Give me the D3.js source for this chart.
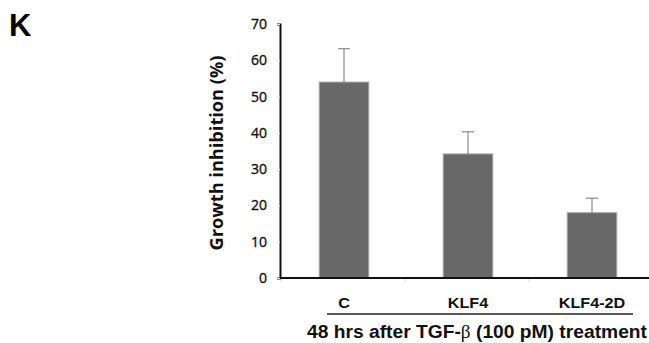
<!DOCTYPE html>
<meta charset="utf-8">
<script src="https://cdn.jsdelivr.net/npm/d3@7"></script>
<style>
  body { margin: 0; background: #fff; }
</style>
<div id="chart"></div>
<script>

// data
var groups = ["C", "KLF4", "KLF4-2D"];
var means = [54, 34.2, 18];
var errors = [9.2, 6.1, 4];
var yTicks = [0, 10, 20, 30, 40, 50, 60, 70];

var W = 649, H = 343;
var svg = d3.select("#chart").append("svg")
  .attr("width", W).attr("height", H);

var x = d3.scaleBand()
  .domain(groups)
  .range([282, 654])
  .paddingInner(0.6)
  .paddingOuter(0.3);

var y = d3.scaleLinear()
  .domain([0, 70])
  .range([278, 24]);

// the figure is a bit stretched sideways, so widen the text to match
function stretch(sel, k) {
  sel.each(function() {
    var w = this.getComputedTextLength();
    d3.select(this).attr("textLength", w * k).attr("lengthAdjust", "spacingAndGlyphs");
  });
}

// panel letter
svg.append("text")
  .attr("x", 9).attr("y", 36)
  .attr("font-family", "Liberation Sans, Arial, sans-serif")
  .attr("font-weight", "bold")
  .attr("font-size", 31)
  .text("K");

// y axis
var yAxis = svg.append("g")
  .attr("transform", "translate(280,0)")
  .call(d3.axisLeft(y).tickValues(yTicks).tickSize(3).tickPadding(10));
yAxis.select(".domain").attr("stroke", "#111").attr("stroke-width", 2);
yAxis.selectAll(".tick line").attr("stroke", "#e2e2e2");
yAxis.selectAll("text")
  .attr("font-family", "Open Sans, sans-serif")
  .attr("font-size", 14)
  .attr("fill", "#111")
  .attr("stroke", "#111")
  .attr("stroke-width", 0.35);

// bars
svg.selectAll(".bar")
  .data(groups)
  .enter()
  .append("rect")
    .attr("x", function(d){ return x(d); })
    .attr("y", function(d, i){ return y(means[i]); })
    .attr("width", x.bandwidth())
    .attr("height", function(d, i){ return y(0) - y(means[i]); })
    .attr("fill", "#686868")
    .attr("stroke", "#a8a8a8")
    .attr("stroke-width", 1);

// error bars
var capW = 6;
svg.selectAll(".errLine")
  .data(groups)
  .enter()
  .append("line")
    .attr("x1", function(d){ return x(d) + x.bandwidth()/2; })
    .attr("x2", function(d){ return x(d) + x.bandwidth()/2; })
    .attr("y1", function(d, i){ return y(means[i]); })
    .attr("y2", function(d, i){ return y(means[i] + errors[i]); })
    .attr("stroke", "#8a8a8a")
    .attr("stroke-width", 1.2);
svg.selectAll(".errCap")
  .data(groups)
  .enter()
  .append("line")
    .attr("x1", function(d){ return x(d) + x.bandwidth()/2 - capW; })
    .attr("x2", function(d){ return x(d) + x.bandwidth()/2 + capW; })
    .attr("y1", function(d, i){ return y(means[i] + errors[i]); })
    .attr("y2", function(d, i){ return y(means[i] + errors[i]); })
    .attr("stroke", "#8a8a8a")
    .attr("stroke-width", 1.2);

// x axis
var xAxis = svg.append("g")
  .attr("transform", "translate(0," + y(0) + ")")
  .call(d3.axisBottom(x).tickSize(0).tickPadding(19));
xAxis.select(".domain").attr("d", "M280,0H649").attr("stroke", "#111").attr("stroke-width", 2);
xAxis.selectAll("text")
  .attr("font-family", "Liberation Sans, Arial, sans-serif")
  .attr("font-weight", "bold")
  .attr("font-size", 15)
  .attr("fill", "#111")
  .call(stretch, 1.08);

// faint category boundary ticks
svg.selectAll(".bnd")
  .data(groups)
  .enter()
  .append("line")
    .attr("x1", function(d){ return x(d) - x.step()*x.paddingInner()/2 - 1; })
    .attr("x2", function(d){ return x(d) - x.step()*x.paddingInner()/2 - 1; })
    .attr("y1", y(0) + 1).attr("y2", y(0) + 4)
    .attr("stroke", "#ddd");

// underline below categories
svg.append("line")
  .attr("x1", 327).attr("x2", 633)
  .attr("y1", 314).attr("y2", 314)
  .attr("stroke", "#222").attr("stroke-width", 1.5);

// x title
var xt = svg.append("text")
  .attr("x", 477).attr("y", 338)
  .attr("text-anchor", "middle")
  .attr("font-family", "Liberation Sans, Arial, sans-serif")
  .attr("font-weight", "bold")
  .attr("font-size", 18)
  .attr("fill", "#111");
xt.append("tspan").text("48 hrs after TGF-");
xt.append("tspan").attr("font-family", "Liberation Serif, serif").attr("font-weight", "normal").text("β");
xt.append("tspan").text(" (100 pM) treatment");
xt.attr("textLength", 340).attr("lengthAdjust", "spacingAndGlyphs");

// y title
svg.append("text")
  .attr("transform", "translate(223,153) rotate(-90)")
  .attr("text-anchor", "middle")
  .attr("font-family", "Open Sans, sans-serif")
  .attr("font-weight", "bold")
  .attr("font-size", 17)
  .attr("fill", "#111")
  .attr("textLength", 195)
  .attr("lengthAdjust", "spacingAndGlyphs")
  .text("Growth inhibition (%)");

</script>
</body></html>
